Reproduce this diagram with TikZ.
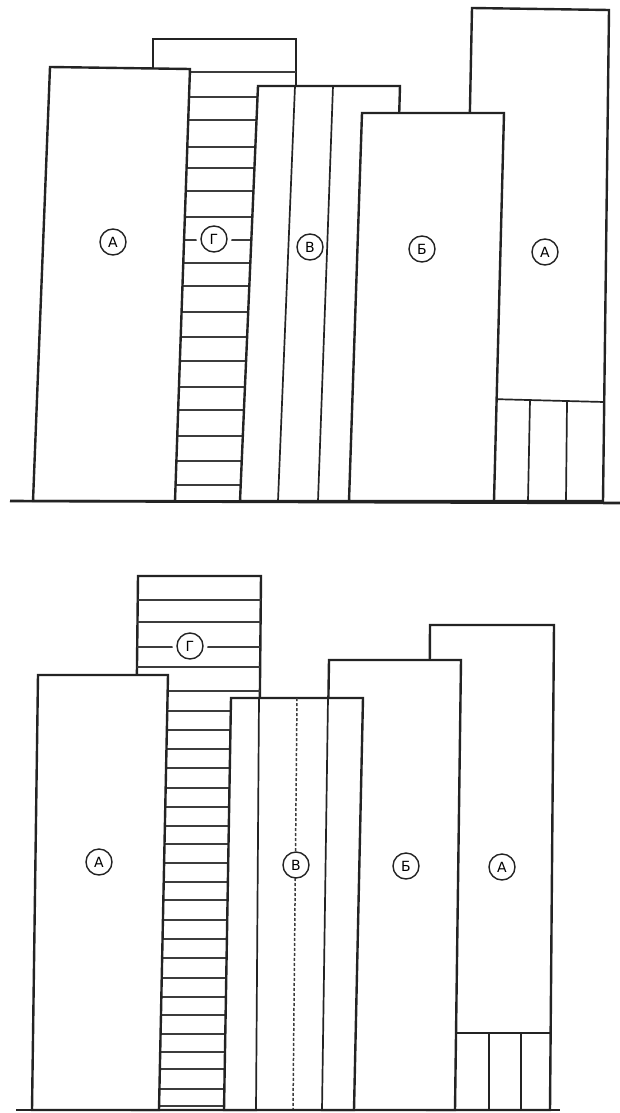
\documentclass[tikz,border=0pt]{standalone}
\usepackage{fontspec}
\newfontfamily\tagfont{DejaVu Sans}
\usepackage{xcolor}
\definecolor{inkgrey}{RGB}{35,35,35}
\definecolor{stripegrey}{RGB}{60,60,60}
\tikzset{
  book/.style={
    draw=inkgrey,
    fill=white,
    line width=2.4pt
  },
  spine/.style={draw=inkgrey, line width=1.7pt},
  softspine/.style={draw=stripegrey, line width=1.5pt, densely dashed},
  stripe/.style={draw=stripegrey, line width=1.5pt},
  shelf/.style={draw=inkgrey, line width=2.6pt},
  tag/.style={
    circle,
    draw=inkgrey,
    fill=white,
    line width=1.4pt,
    minimum size=26pt,
    inner sep=0pt,
    font=\tagfont\fontsize{14}{14}\selectfont
  },
  tagcut/.style={tag, preaction={draw=white, line width=9pt}},
}

\begin{document}
\begin{tikzpicture}[x=1pt, y=-1pt]
\useasboundingbox (0,0) rectangle (620,1113);

% Upper shelf: book G at the back
\draw[book] (153,39) rectangle (296,501);
\foreach \y in {72,97,120,147,168,191,217,240,263,286,312,337,361,387,410,436,461,485}
  \draw[stripe] (153,\y) -- (296,\y);

% upper right A, behind B
\draw[book] (472,8) -- (609,10) -- (603,501) -- (462,501) -- cycle;
\draw[spine] (490,399) -- (604,402);
\draw[spine] (530,400) -- (528,501);
\draw[spine] (567,402) -- (566,501);

% upper V with its two lines
\draw[book] (258,86) -- (400,86) -- (388,501) -- (240,501) -- cycle;
\draw[spine] (295,86) -- (278,501);
\draw[spine] (333,86) -- (318,501);

% upper B
\draw[book] (362,113) -- (504,113) -- (494,501) -- (349,501) -- cycle;

% upper left A, in front
\draw[book] (50,67) -- (190,69) -- (175,501) -- (33,501) -- cycle;

\draw[shelf] (10,501) -- (620,503);

\node[tag] (upA) at (113,242) {А};
\node[tagcut] (upG) at (214,239) {Г};
\node[tag] (upV) at (310,247) {В};
\node[tag] (upB) at (422,249) {Б};
\node[tag] (upAright) at (545,252) {А};

% Lower shelf: book G at the back
\draw[book] (138,576) -- (261,576) -- (256,1110) -- (132,1110) -- cycle;
\begin{scope}
  \clip (138,576) -- (261,576) -- (256,1110) -- (132,1110) -- cycle;
  \foreach \y in {600,622,647,667,691,711,730,749,768,788,807,826,844,863,882,900,920,939,958,978,997,1015,1034,1052,1069,1089,1106}
    \draw[stripe] (125,\y) -- (265,\y);
\end{scope}

% lower right A, behind B
\draw[book] (430,625) -- (554,625) -- (550,1110) -- (427,1110) -- cycle;
\draw[spine] (450,1033) -- (551,1033);
\draw[spine] (489,1033) -- (489,1110);
\draw[spine] (521,1033) -- (521,1110);

% lower B
\draw[book] (329,660) -- (461,660) -- (455,1110) -- (322,1110) -- cycle;

% lower V, in front of B and G
\draw[book] (231,698) -- (363,698) -- (354,1110) -- (224,1110) -- cycle;
\draw[spine] (259,698) -- (256,1110);
\draw[softspine] (297,698) -- (293,1110);
\draw[spine] (328,698) -- (322,1110);

% lower left A, in front
\draw[book] (38,675) -- (168,675) -- (159,1110) -- (32,1110) -- cycle;

\draw[shelf] (16,1110) -- (560,1110);

\node[tag] (lowA) at (99,862) {А};
\node[tagcut] (lowG) at (190,646) {Г};
\node[tag] (lowV) at (296,865) {В};
\node[tag] (lowB) at (406,866) {Б};
\node[tag] (lowAright) at (502,867) {А};

\end{tikzpicture}
\end{document}
